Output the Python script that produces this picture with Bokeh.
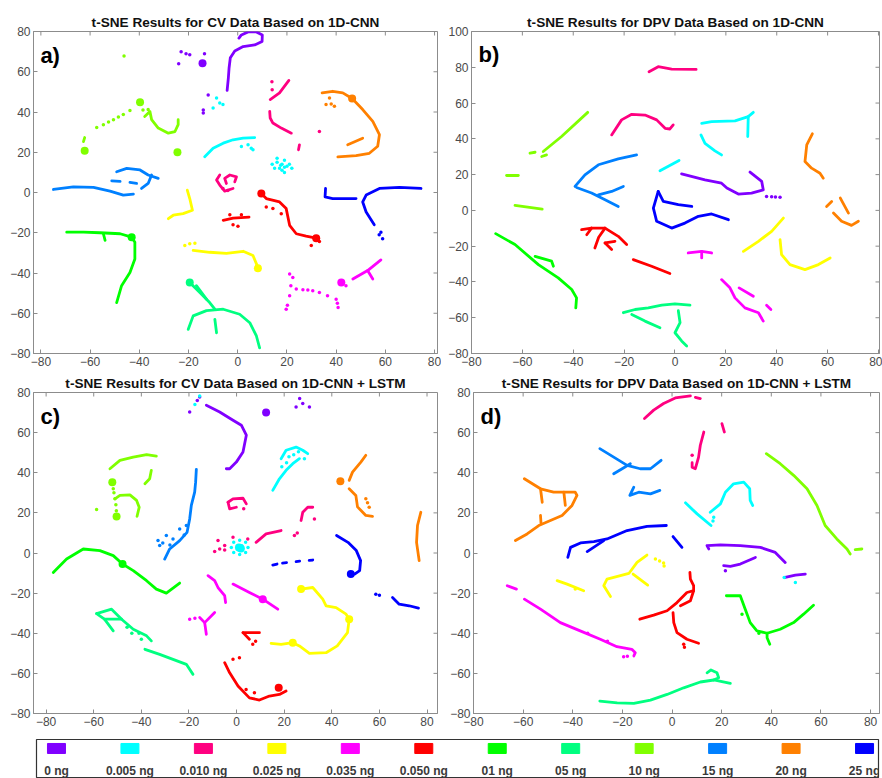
import math
from bokeh.plotting import figure
from bokeh.models import FixedTicker, Label
from bokeh.layouts import column, row
from bokeh.embed import file_html
from bokeh.resources import INLINE
from bokeh.core.properties import value

# ---------------- legend / classes ----------------
CLASSES = ["0 ng", "0.005 ng", "0.010 ng", "0.025 ng", "0.035 ng", "0.050 ng",
           "01 ng", "05 ng", "10 ng", "15 ng", "20 ng", "25 ng"]
COLORS = ["#8000FF", "#00FFFF", "#FF0080", "#FFFF00", "#FF00FF", "#FF0000",
          "#00FF00", "#00FF80", "#80FF00", "#0080FF", "#FF8000", "#0000FF"]

TITLES = ["t-SNE Results for CV Data Based on 1D-CNN",
          "t-SNE Results for DPV Data Based on 1D-CNN",
          "t-SNE Results for CV Data Based on 1D-CNN + LSTM",
          "t-SNE Results for DPV Data Based on 1D-CNN + LSTM"]
PANEL_TAGS = ["a)", "b)", "c)", "d)"]
X_TICKS = [-80, -60, -40, -20, 0, 20, 40, 60, 80]
Y_TICKS_A = [-80, -60, -40, -20, 0, 20, 40, 60, 80]
Y_TICKS_B = [-80, -60, -40, -20, 0, 20, 40, 60, 80, 100]

# ---------------- panel a: CV, 1D-CNN ----------------
A_LINES = {
    "0 ng": [[(-4.3, 50.7), (-3.8, 57), (-3.5, 62), (-3, 67), (-1.2, 70.3), (2.2, 72.5), (6.9, 73.3), (9.9, 75),
              (10, 78.3), (7.6, 79.8), (4.2, 79.8), (1.5, 78.3), (0.5, 76.7)]],
    "0.005 ng": [[(-13.4, 17.8), (-10, 22), (-5.9, 24.5), (-1.9, 26.2), (2.2, 27), (6.9, 27.3)]],
    "0.010 ng": [[(13.2, 46.2), (17, 49.5), (20.8, 55.7)],
                 [(13, 40.3), (13.2, 37), (14.3, 34.5), (17.7, 32), (21.8, 29.5)],
                 [(25.1, 23.7), (24.7, 21.2)],
                 [(-7.3, 8.7), (-8.6, 6.2), (-7.3, 3.7), (-5.3, 0.7), (-1.9, 2)],
                 [(-4.6, 4.5), (-5.3, 7), (-3.2, 8.7), (-0.5, 7.8), (-1.2, 5.3)]],
    "0.025 ng": [[(-20.5, 1.2), (-19.5, -3), (-18.4, -8.8), (-22.2, -10.5), (-26.2, -11.3), (-28.2, -13)],
                 [(-18.1, -28.8), (-11.4, -29.7), (-4.6, -30.2), (2.2, -29.2), (6.2, -31.3), (8.2, -37.2)]],
    "0.035 ng": [[(46.8, -43), (52.8, -38.8), (58.2, -33.5)], [(52.8, -38.8), (54.9, -43)]],
    "0.050 ng": [[(9.6, -0.5), (11.6, -3), (17, -4.7), (19.7, -8), (21.1, -16.3), (23.8, -20.5), (27.8, -21.7), (31.9, -22.7)],
                 [(-5.9, -13.8), (-1.9, -12.7), (4.6, -12.2)]],
    "01 ng": [[(-69.5, -19.7), (-62.7, -19.7), (-56, -20), (-47.8, -20.5), (-43.1, -22.2), (-41.8, -24.7),
               (-41.8, -33), (-43.8, -39.7), (-47.2, -46.3), (-49.2, -54.7)],
              [(-54.6, -20.5), (-53.9, -23.8)]],
    "05 ng": [[(-19.5, -44.7), (-15.4, -49.7), (-11.4, -54.7), (-9.3, -58)],
              [(-16.8, -46.3), (-12.7, -53)],
              [(-20.1, -68), (-18.1, -61.3), (-12.7, -58.7), (-5.9, -58), (0.8, -60.5), (4.9, -64.7), (7.6, -71.3), (8.9, -77.2)],
              [(-9.3, -63), (-8.6, -69.7)]],
    "10 ng": [[(-37.8, 37.8), (-35.7, 40.3), (-35, 36.2), (-32.3, 32), (-28.2, 29.5), (-25.5, 30.3), (-24.2, 33.7), (-24.2, 36.2)],
              [(-62.7, 25.3), (-62.2, 27.3)]],
    "15 ng": [[(-74.9, 1.5), (-66.8, 2.8), (-58.6, 2.5), (-51.9, 0.7), (-46.5, -1.3), (-42.4, -0.8)],
              [(-49.2, 10.3), (-45.1, 12), (-39.7, 11.2), (-36.4, 8.7), (-32.3, 7)],
              [(-39.1, 2), (-36.4, 4.5), (-35, 8.7)],
              [(-51.2, 5.8), (-47.8, 5.5)], [(-43.8, 5), (-41.1, 4.5)]],
    "20 ng": [[(34.3, 49.5), (38.6, 50.3), (42.7, 49.5), (46.5, 46.7), (50.8, 41.2), (54.9, 35.3), (57.6, 28.7),
               (56.9, 23), (53.5, 19.5), (48.1, 18.3), (40.7, 17.7)],
              [(44.7, 23.7), (50.8, 27)]],
    "25 ng": [[(35.7, 2), (35.5, -2.2), (38.6, -3), (48.1, -3)],
              [(74.5, 2), (65.7, 2.5), (57.6, 2), (52.2, -1.3), (50.8, -4.7), (52.2, -9.7), (55.5, -16)]],
}
A_DOTS = {
    "0 ng": [(-23, 70), (-21, 69), (-19.5, 68.5), (-13.5, 69), (-24, 64), (-12, 48.5), (-14, 41), (-14, 39.5)],
    "0.005 ng": [(4.2, 23.7), (5.5, 22), (6.2, 21.2), (1.5, 22.8), (-8.6, 47), (-7.3, 44.5), (-6, 43.7), (-10, 42),
                 (18, 14), (16, 15), (20, 13), (17, 12), (19, 16), (21, 14), (15, 12), (18, 11), (22, 12), (16, 17),
                 (19, 10), (14, 14), (17.5, 13.5), (19, 12.5)],
    "0.010 ng": [(13.9, 55), (14, 51), (33.2, 30.3), (-4, 1), (-6, 2)],
    "0.025 ng": [(-21.5, -26.3), (-19.5, -25.5), (-17.4, -25.2)],
    "0.035 ng": [(21.1, -40.5), (22.4, -42.2), (21.6, -46.3), (21.1, -51.3), (19.7, -58), (20.2, -56), (23.8, -48),
                 (26.5, -48.3), (28.5, -48.5), (30.5, -48.8), (33.2, -49.7), (36.5, -51.3), (40, -53), (40.8, -57.2),
                 (40.5, -55), (44, -46.3)],
    "0.050 ng": [(11.6, -7.2), (14.3, -8), (17.7, -10.5), (29.9, -26.3), (33.2, -24.3), (-1.9, -16), (0.1, -16.8),
                 (-3.2, -11), (1.5, -11)],
    "10 ng": [(-46.2, 67.8), (-57.3, 32.3), (-54.6, 33.7), (-52.5, 35), (-50.5, 36.2), (-48.5, 37.5), (-46.5, 38.7),
              (-43.8, 40.7), (-36.4, 41.2), (-38.5, 41)],
    "20 ng": [(37.3, 47), (39.3, 42.8), (35.9, 43.7), (38, 44)],
    "25 ng": [(58.2, -19.7), (58.9, -23), (57.5, -21)],
}
A_BIG = {
    "0 ng": [(-14.3, 64.2)],
    "0.025 ng": [(8.2, -37.7)],
    "0.035 ng": [(42.1, -44.7)],
    "0.050 ng": [(9.6, -0.5), (31.9, -22.7)],
    "01 ng": [(-43.1, -22.2)],
    "05 ng": [(-19.5, -44.7)],
    "10 ng": [(-62.2, 20.8), (-39.7, 44.8), (-24.5, 20)],
    "20 ng": [(46.5, 46.7)],
}

# ---------------- panel b: DPV, 1D-CNN ----------------
B_LINES = {
    "0 ng": [[(2.6, 20.4), (11.8, 17.1), (18.3, 15.2), (20.4, 12.5), (24.9, 9.1), (30.1, 9.7), (34.7, 11.5), (34.1, 16.2), (29.5, 21.4)]],
    "0.005 ng": [[(10.5, 48.7), (14.4, 49.6), (23.6, 50), (28.8, 52.4), (30.8, 54.8)], [(28.8, 52.4), (28.6, 41.3)],
                 [(10.2, 42.2), (11.8, 37.5), (15.7, 33.3), (18.3, 31)], [(-5.9, 22.1), (1.6, 27.9)]],
    "0.010 ng": [[(-10.2, 77.5), (-6.6, 80.3), (-1.3, 79), (8.3, 78.8)],
                 [(-24.9, 42.2), (-21, 50.6), (-17, 53.7), (-11.8, 53.3), (-7.2, 50.6), (-3.9, 45.9), (-2, 45.5), (-0.7, 47.8)]],
    "0.025 ng": [[(26.9, -22.9), (32.8, -17.3), (38, -11.7), (42.6, -4.3)],
                 [(41.3, -16.4), (41.9, -24.7), (45.2, -30.3), (51.1, -33.1), (56.4, -30.3), (61, -26.6)]],
    "0.035 ng": [[(5.2, -23.8), (10.5, -22.9), (14.4, -23.8)], [(10.5, -22.9), (10.5, -26.6)],
                 [(18.3, -38.7), (21.6, -43.3), (23.6, -48.9), (27.5, -54.5), (32.8, -57.2), (34.7, -61.9)],
                 [(25.2, -43.3), (30.8, -48)], [(36, -53), (37.7, -55.4)]],
    "0.050 ng": [[(-36.7, -10.8), (-32.8, -9.9), (-27.5, -9.9), (-22.3, -14.5), (-19, -19.1)],
                 [(-34.7, -13.6), (-32.8, -9.9)], [(-31.5, -21), (-30, -15), (-27.5, -9.9)],
                 [(-27.5, -18.2), (-24.9, -21.9)], [(-27.5, -18.2), (-23.6, -17.3)],
                 [(-16.4, -27.5), (-9.2, -31.2), (-2, -35.3)]],
    "01 ng": [[(-70.5, -13), (-62.9, -19.1), (-53.7, -30.3), (-45.9, -37.7), (-40.6, -44.2), (-38.7, -48.9), (-39, -54.5)],
              [(-55, -25.7), (-48.5, -28.4), (-47.8, -31.2)]],
    "05 ng": [[(-20.3, -57.2), (-15.7, -55.4), (-10.5, -54.5), (-5.2, -53), (0, -52.2), (5.9, -53)],
              [(-17, -58.2), (-11.8, -61.9), (-5.9, -65.6)],
              [(1.3, -56.1), (2, -62.8), (0, -68.4), (2.6, -73), (4.6, -75.8)]],
    "10 ng": [[(-51.8, 32.9), (-44.6, 41.3), (-34.3, 54.8)], [(-57, 32), (-55, 32.5)], [(-52.4, 30.1), (-50.5, 31)],
              [(-66.2, 19.5), (-61.6, 19.5)], [(-62.9, 2.8), (-52.2, 0.7)]],
    "15 ng": [[(-39.3, 13.4), (-35.4, 19.9), (-30.1, 25.5), (-22.3, 28.8), (-15.1, 31)],
              [(-38.7, 12.8), (-32.8, 9.7), (-27.5, 5.9), (-22.3, 2.2)],
              [(-30.1, 8.7), (-24.9, 10.6), (-20.3, 13.4)]],
    "20 ng": [[(54, 42.8), (51.8, 36.6), (51.1, 27.3), (53.7, 23.6), (57, 20.8), (58.3, 18)],
              [(59.6, 2.2), (61.6, 5)], [(62.3, -1.5), (65.5, -6.1), (69.4, -8.4), (72.1, -6.1)],
              [(65, 6.9), (68.2, -1.5)]],
    "25 ng": [[(-6.6, 10.6), (-8.5, 1.3), (-7.2, -6.1), (-1.3, -9.9), (3.9, -7.1), (9.2, -3.3), (14.4, -2), (21, -5.2)],
              [(-6.6, 10.6), (-4.6, 5), (1.3, 3.2), (6.6, 2.2)]],
}
B_DOTS = {
    "0 ng": [(36, 7.8), (38, 7.6), (39.5, 7.5), (41.3, 7.4)],
}
B_BIG = {}

# ---------------- panel c: CV, 1D-CNN + LSTM ----------------
C_LINES = {
    "0 ng": [[(-12.7, 73.7), (-7.1, 70.3), (-1.5, 66.2), (2, 63.7), (4.1, 58.7), (2.7, 50.3), (-0.1, 45.3), (-2.9, 42), (-4.3, 42)]],
    "0.005 ng": [[(18.7, 47), (20.8, 51.2), (25, 52.8), (27.8, 51.2), (29.9, 49.5)],
                 [(26.4, 47), (23.6, 44.5), (20.8, 41.2), (18, 37), (15.2, 31.2)]],
    "0.010 ng": [[(-3.6, 25.3), (-1.5, 27), (2.7, 27.3), (4.1, 24.5)], [(-3.6, 25.3), (-2.9, 22), (-0.1, 22.8)],
                 [(27.1, 16.2), (27.8, 20.3), (29.9, 22.8), (32, 22.8)], [(8.2, 5.3), (12.4, 9.5), (18.7, 11.2)]],
    "0.025 ng": [[(27.1, -18), (32, -17.2), (36.2, -23), (37.6, -26.3), (41.8, -27.2), (46, -30.5), (47.3, -33),
                  (46.6, -39.7), (42.3, -46.3), (37.6, -49.7), (30.6, -50), (26.4, -46.3), (23.6, -44.7), (18.7, -45.5), (14.5, -45)]],
    "0.035 ng": [[(-12, -11.3), (-9.2, -13.8), (-7.8, -17.2), (-5, -21.3), (-4.6, -24.7)],
                 [(-1.5, -15.5), (5.4, -19.7), (11, -23), (17.3, -28)],
                 [(-15.5, -32.2), (-13.4, -34.7), (-12.7, -40.5)], [(-13.4, -34.7), (-9.2, -29.7)]],
    "0.050 ng": [[(2.7, -39.7), (5.4, -43)], [(2.7, -39.7), (9.6, -39.7)],
                 [(-5, -54.7), (-2.9, -59.7), (0.6, -66.3), (5.4, -72.2), (9.6, -73.3), (13.8, -71.3), (18, -70.5), (20.8, -68.8)]],
    "01 ng": [[(-77, -9.7), (-71.4, -3), (-64.4, 2), (-57.4, 1.2), (-51.8, -1.3), (-47.9, -5.5), (-43.4, -8.8),
               (-37.8, -13.8), (-33.7, -18), (-29.5, -20), (-23.9, -15)]],
    "05 ng": [[(-58.8, -30.2), (-52.5, -28), (-48.3, -33), (-43.4, -38), (-37.8, -41.3), (-35.8, -43.8)],
              [(-55.5, -33), (-51.8, -38.8)], [(-58.8, -30.2), (-55.5, -33), (-48.3, -33)],
              [(-38.5, -48), (-32.3, -50.5), (-26.7, -53), (-21.1, -55.5), (-18.3, -60.5)]],
    "10 ng": [[(-53.2, 42), (-49, 46.2), (-43.4, 47.8), (-37.8, 49), (-33.7, 48.3)],
              [(-35.8, 41.2), (-36.5, 37), (-38.5, 34.5)],
              [(-51.1, 27), (-49, 28.7), (-44.8, 29), (-42, 26.2), (-40.9, 22.8), (-41.8, 18.3)]],
    "15 ng": [[(-16.9, 41.7), (-17.2, 35.3), (-17.6, 30.3), (-19, 23.7), (-19.7, 17), (-20.8, 10.3), (-23.9, 6.2),
               (-28.1, 2), (-30.2, -3)]],
    "20 ng": [[(54.3, 48.7), (52.2, 45.3), (48.7, 40.3), (47.3, 36.2)],
              [(47.3, 32), (50.1, 28.7), (50.8, 23), (54.3, 18.7), (57.1, 18.3)],
              [(77.4, 20.3), (76, 13.7), (75.6, 5.3), (76.7, -3.8)]],
    "25 ng": [[(42, 8.7), (46.8, 5.3), (50.3, 1.2), (52.1, -3.8), (51.7, -8.8), (49.6, -10.5)],
              [(15.2, -6), (17, -5.5)], [(19.3, -5), (21, -4.8)], [(25, -4.3), (26.5, -4.1)], [(30.5, -3.7), (32, -3.5)],
              [(65.5, -22.2), (68.3, -25.5), (72.5, -26.3), (76.4, -27.5)]],
}
C_DOTS = {
    "0 ng": [(-19.7, 70.3), (-15.5, 77.8), (-16.5, 76), (25, 72.8), (27.8, 74.5), (30.6, 72.8), (26.5, 77)],
    "0.005 ng": [(-15.5, 78.3), (-17.5, 74), (22, 48), (24, 49), (26, 50.5), (28.5, 47), (21, 45), (19, 43),
                 (1.3, 6.3), (3.8, 5.3), (4.8, 2.8), (3.8, 0.3), (1.3, -0.7), (-1.2, 0.3), (-2.2, 2.8), (-1.2, 5.3),
                 (0.5, 3.5), (2, 2), (0.6, 1.8), (2.2, 3.6)],
    "0.010 ng": [(32.7, 17), (24.3, 8.7), (25.5, 10), (-7.8, 6.2), (-5, 3.7), (-1.5, 7.8), (-7.1, 2), (-9.2, 0.7),
                 (4.7, 7), (3, 22), (-5, 1.5)],
    "0.035 ng": [(-19.7, -33), (-17.5, -32.5)],
    "0.050 ng": [(6.8, -45.5), (8, -44), (-1.5, -53), (1.2, -52.2), (4, -68), (7.5, -69.7)],
    "05 ng": [(-46, -37), (-44, -40), (-41, -40), (-40, -43)],
    "10 ng": [(-51.8, 32), (-51.5, 30), (-51.1, 27), (-50.7, 24), (-58.8, 21.7), (-50.5, 21)],
    "15 ng": [(-33, 6.2), (-32.3, 3.7), (-29.5, 8.7), (-26.7, 7), (-23.9, 12), (-21.1, 13.7), (-31, 5), (-28, 4), (-22, 9)],
    "20 ng": [(54.3, 27), (55.7, 22.8), (55, 25)],
    "25 ng": [(58.5, -20.5), (60, -21)],
}
C_BIG = {
    "0 ng": [(12.4, 70)],
    "0.005 ng": [(1.0, 2.8), (1.8, 2.2)],
    "0.025 ng": [(47.3, -33), (23.6, -44.7), (27.1, -18)],
    "0.035 ng": [(11, -23)],
    "0.050 ng": [(17.7, -67.2)],
    "01 ng": [(-47.9, -5.5)],
    "10 ng": [(-52.2, 35.3), (-50.4, 18.2)],
    "20 ng": [(43.6, 35.8)],
    "25 ng": [(48, -10.5)],
}

# ---------------- panel d: DPV, 1D-CNN + LSTM ----------------
D_LINES = {
    "0 ng": [[(14.8, 2), (14.1, 3.7), (19.5, 4), (27.5, 3.7), (35.6, 2.8), (41.6, 0.3), (45.6, -4.7)],
             [(33.6, -2.2), (27.5, -5.5), (23.5, -6.7), (20.8, -6.3)],
             [(45.6, -12.2), (49.7, -11), (53.7, -10.5)]],
    "0.005 ng": [[(5.4, 25), (10.1, 19.5), (15.7, 13.7)],
                 [(15.4, 20.3), (19.5, 24.5), (21.5, 30.3), (24.8, 34.5), (28.9, 35.3), (31.3, 32), (31.5, 26.2), (32.5, 23.7)]],
    "0.010 ng": [[(-11.1, 67), (-7.4, 71.2), (-3.4, 74.5), (1.3, 77.3), (7.4, 78.3)], [(9.4, 77.6), (11.4, 77)],
                 [(20.1, 64.5), (21.1, 60.3)],
                 [(12.8, 60.3), (11.4, 53.7), (10.7, 47.8), (9.4, 42), (8.1, 42.8), (8.1, 45)]],
    "0.025 ng": [[(-46.3, -13.8), (-42.3, -15.5), (-35.6, -18.8)],
                 [(-24.8, -21.7), (-27.5, -16.3), (-26.2, -13), (-20.8, -11.3), (-17.4, -10.2), (-14.1, -4.7), (-10.1, -1)],
                 [(-15.7, -10.5), (-9.8, -16)]],
    "0.035 ng": [[(-66.4, -16.3), (-62.7, -18)],
                 [(-59.5, -23), (-53, -28), (-45, -34.7), (-37, -38.8), (-28.9, -43), (-22.2, -46.7), (-16.2, -48),
                  (-14.8, -49.7), (-15.4, -51.3)]],
    "0.050 ng": [[(-13, -33), (-7.4, -31), (-2, -28.8), (2, -24.7), (6, -19.7), (8.7, -18.8), (8.7, -16.3), (7.4, -13), (7.2, -9.7)],
                 [(3.4, -26.3), (7.4, -23.8), (8.7, -18.8)],
                 [(0.4, -29.7), (0.7, -34.7), (2, -39.7), (6, -43), (10.7, -45)]],
    "01 ng": [[(21.9, -21.3), (27.5, -21.3), (29.5, -28), (31.5, -34.7), (34.2, -38.8), (38.3, -40), (43.6, -38),
               (49, -34.7), (53, -30.5), (57, -26)],
              [(38.3, -40), (38.3, -42.2), (39.4, -45.5)]],
    "05 ng": [[(-29.1, -73.8), (-22.1, -74.7), (-15.4, -75), (-8.7, -73.3), (-2, -70.5), (4.7, -67.2), (11.4, -64.3),
               (16.8, -63.3), (23.5, -65)],
              [(14.1, -59.7), (15.7, -58.3), (18.1, -59.7), (18.8, -62.2), (16.8, -63.3)]],
    "10 ng": [[(38, 49.5), (43.6, 44.5), (49, 38.7), (54.4, 32), (58.4, 23.7), (61.7, 13.7), (66.4, 7), (70.5, 2), (71.8, -0.5)],
              [(73.8, 1.7), (76.5, 2)]],
    "15 ng": [[(-29.1, 52), (-23.5, 47.8), (-18.1, 43.7), (-12.8, 42), (-8.7, 42), (-4.4, 46.2)],
              [(-23.5, 39.5), (-20.1, 42), (-16.8, 44.5)],
              [(-15.4, 32.8), (-17, 28.7), (-13.4, 30.3), (-8.7, 29.5), (-4.9, 31.2)]],
    "20 ng": [[(-59.5, 37), (-53, 32), (-47.7, 30.3), (-43.6, 30.3), (-39, 30.3), (-38.3, 28.7), (-40.3, 23.7),
               (-44.3, 18.7), (-49, 16.2), (-53.7, 13.7), (-58.4, 9.5), (-63.1, 6.2)],
              [(-53, 32), (-52.3, 25.3)], [(-43.6, 30.3), (-43, 23.7)], [(-53, 18.7), (-52.8, 15)]],
    "25 ng": [[(-2.3, 13.7), (-10.1, 13.3), (-18.1, 11.2), (-26.2, 7), (-31.5, 5.7), (-36.9, 5), (-40.9, 2.8), (-42, -2.2)],
              [(-34.2, 0.7), (-27.5, 6.2)], [(0.4, 8.2), (4, 2.8)]],
}
D_DOTS = {
    "0 ng": [(21.5, -8.8)],
    "0.005 ng": [(16.8, 17.8), (16.5, 16), (45.2, -12.2), (49.7, -14.7)],
    "0.010 ng": [(8.1, 48.7)],
    "0.025 ng": [(-6.7, -3), (-3.4, -5), (-5, -4), (-3.2, -6.5), (-39, -18)],
    "0.035 ng": [(-19.5, -51.7), (-18, -51.5), (-34, -40), (-26, -44)],
    "0.050 ng": [(4.7, -45.5), (5, -47)],
    "01 ng": [(28.2, -30.5), (35, -40)],
}
D_BIG = {}

PANELS = [
    dict(lines=A_LINES, dots=A_DOTS, big=A_BIG, xr=(-83, 81.2), yr=(-80, 80), yt=Y_TICKS_A,
         tag=(-80.2, 74.5), w=441, h=372, bl=33, br=4, bt=31, bb=19),
    dict(lines=B_LINES, dots=B_DOTS, big=B_BIG, xr=(-80, 80.4), yr=(-80, 100), yt=Y_TICKS_B,
         tag=(-77.2, 93.9), w=441, h=372, bl=30, br=3, bt=31, bb=19),
    dict(lines=C_LINES, dots=C_DOTS, big=C_BIG, xr=(-85.3, 84.4), yr=(-80, 80), yt=Y_TICKS_A,
         tag=(-82.4, 74.5), w=441, h=360, bl=33, br=4, bt=20, bb=19),
    dict(lines=D_LINES, dots=D_DOTS, big=D_BIG, xr=(-80, 83.6), yr=(-80, 80), yt=Y_TICKS_A,
         tag=(-77.2, 74.5), w=441, h=360, bl=32, br=3, bt=20, bb=19),
]

AX_COLOR = "#8c8c8c"
LBL_COLOR = "#4a4a4a"
FONT = "Liberation Sans"


def style_axis(ax, ticks):
    ax.ticker = FixedTicker(ticks=ticks)
    ax.major_tick_in = 4
    ax.major_tick_out = 0
    ax.minor_tick_line_color = None
    ax.axis_line_color = AX_COLOR
    ax.major_tick_line_color = AX_COLOR
    ax.major_label_text_font = FONT
    ax.major_label_text_color = LBL_COLOR
    ax.major_label_text_font_size = "12px"
    ax.major_label_standoff = 3


def make_panel(i, cfg):
    p = figure(width=cfg["w"], height=cfg["h"], x_range=cfg["xr"], y_range=cfg["yr"],
               toolbar_location=None, output_backend="svg",
               min_border_left=cfg["bl"], min_border_right=cfg["br"],
               min_border_top=cfg["bt"], min_border_bottom=cfg["bb"])
    p.grid.visible = False
    p.outline_line_color = AX_COLOR
    p.title.text = TITLES[i]
    p.title.align = "center"
    p.title.text_font = FONT
    p.title.text_font_size = "13.6px"
    p.title.text_font_style = "bold"
    p.title.text_color = "#111111"
    p.title.standoff = 3
    style_axis(p.xaxis[0], X_TICKS)
    style_axis(p.yaxis[0], cfg["yt"])

    # mirrored tick marks on the top and right edges of the box
    x0, x1 = cfg["xr"]
    y0, y1 = cfg["yr"]
    p.ray(x=X_TICKS, y=[y1] * len(X_TICKS), length=4, length_units="screen",
          angle=-math.pi / 2, line_color=AX_COLOR, line_width=1)
    p.ray(x=[x1] * len(cfg["yt"]), y=cfg["yt"], length=4, length_units="screen",
          angle=math.pi, line_color=AX_COLOR, line_width=1)

    for cls, col in zip(CLASSES, COLORS):
        segs = cfg["lines"].get(cls, [])
        if segs:
            p.multi_line([[pt[0] for pt in s] for s in segs], [[pt[1] for pt in s] for s in segs],
                         line_color=col, line_width=2.8, line_cap="round", line_join="round")
        dots = cfg["dots"].get(cls, [])
        if dots:
            p.scatter([d[0] for d in dots], [d[1] for d in dots], size=3.5, color=col, line_width=0)
        big = cfg["big"].get(cls, [])
        if big:
            p.scatter([d[0] for d in big], [d[1] for d in big], size=8, color=col, line_width=0)

    p.add_layout(Label(x=cfg["tag"][0], y=cfg["tag"][1], text=PANEL_TAGS[i], text_font=FONT,
                       text_font_size="22px", text_font_style="bold", text_color="#000000",
                       text_baseline="top", text_align="left"))
    return p


panels = [make_panel(i, c) for i, c in enumerate(PANELS)]

# ---------------- legend ----------------
idx = list(range(len(CLASSES)))
lg = figure(width=882, height=46, x_range=(-0.272, 11.19), y_range=(0, 1),
            toolbar_location=None, output_backend="svg", x_axis_type=None, y_axis_type=None,
            min_border_left=36, min_border_right=4, min_border_top=7, min_border_bottom=0)
lg.grid.visible = False
lg.outline_line_color = "#333333"
lg.outline_line_width = 1.2
lg.rect(x=idx, y=[0.77] * len(idx), width=18, height=10, width_units="screen", height_units="screen",
        fill_color=COLORS, line_color=COLORS)
lg.text(x=idx, y=[0.2] * len(idx), text=CLASSES, text_align="center", text_baseline="middle",
        text_font=value(FONT), text_font_size="12px", text_font_style="bold",
        text_color="#3a3a3a")

layout = column(row(panels[0], panels[1]), row(panels[2], panels[3]), lg)
open("out.html", "w").write(file_html(layout, INLINE))
